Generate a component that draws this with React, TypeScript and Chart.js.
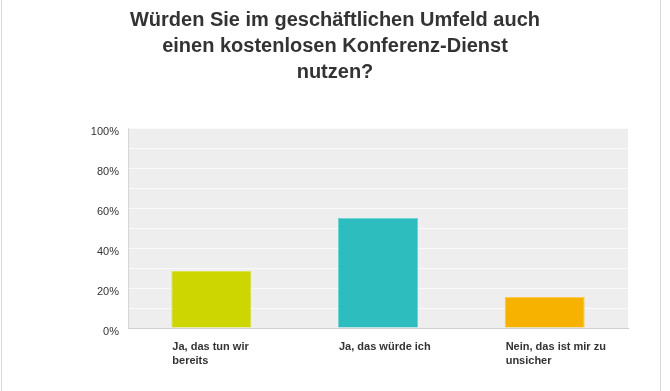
import React, { useEffect, useRef } from "react";
import { Chart, registerables } from "chart.js";

Chart.register(...registerables);

const titleLines = [
  "Würden Sie im geschäftlichen Umfeld auch",
  "einen kostenlosen Konferenz-Dienst",
  "nutzen?",
];
const categories = [
  ["Ja, das tun wir", "bereits"],
  ["Ja, das würde ich"],
  ["Nein, das ist mir zu", "unsicher"],
];
const values = [28.5, 55, 15.5];
const barColors = ["#cdd600", "#2ebdbf", "#f7b200"];
const barBorders = ["#dbe24d", "#6fd3d4", "#f9c94d"];
const yLabelSteps = [0, 20, 40, 60, 80, 100];

const FONT = "'Liberation Sans', Arial, Helvetica, sans-serif";

const bgPlugin = {
  id: "plotBg",
  beforeDraw(chart: any) {
    const { ctx, chartArea } = chart;
    ctx.save();
    ctx.fillStyle = "#eeeeee";
    ctx.fillRect(chartArea.left, chartArea.top, chartArea.right - chartArea.left, chartArea.bottom - chartArea.top);
    ctx.restore();
  },
  afterDraw(chart: any) {
    const { ctx, height } = chart;
    ctx.save();
    ctx.strokeStyle = "#d9d9d9";
    ctx.lineWidth = 1;
    ctx.beginPath();
    ctx.moveTo(1.5, 0);
    ctx.lineTo(1.5, height);
    ctx.moveTo(660.5, 0);
    ctx.lineTo(660.5, height);
    ctx.stroke();
    ctx.restore();
  },
};

export default function App() {
  const ref = useRef<HTMLCanvasElement | null>(null);
  useEffect(() => {
    document.body.style.margin = "0";
    const chart = new Chart(ref.current as HTMLCanvasElement, {
      type: "bar",
      data: {
        labels: categories,
        datasets: [
          {
            data: values,
            backgroundColor: barColors,
            borderColor: barBorders,
            borderWidth: 1,
            barPercentage: 0.48,
            categoryPercentage: 1,
          },
        ],
      },
      options: {
        responsive: false,
        animation: false,
        devicePixelRatio: 1,
        layout: { padding: 0 },
        plugins: {
          legend: { display: false },
          tooltip: { enabled: false },
          title: {
            display: true,
            text: titleLines,
            color: "#333333",
            font: { family: FONT, size: 20, weight: "bold", lineHeight: 1.3 },
            padding: { top: 7, bottom: 43 },
          },
        },
        scales: {
          x: {
            grid: { display: false, drawTicks: false },
            border: { display: true, color: "#cfcfcf", width: 1 },
            ticks: {
              color: "#333333",
              font: { family: FONT, size: 11, weight: "bold", lineHeight: 1.36 },
              align: "start",
              labelOffset: -39,
              padding: 11,
              maxRotation: 0,
              autoSkip: false,
            },
            afterFit(s: any) {
              s.height = 63;
            },
          },
          y: {
            min: 0,
            max: 100,
            grid: {
              drawTicks: false,
              color: (c: any) => (c.tick && c.tick.value === 0 ? "rgba(0,0,0,0)" : "#fafafa"),
              lineWidth: 1,
            },
            border: { display: true, color: "#d6d6d6", width: 1 },
            ticks: {
              stepSize: 10,
              color: "#333333",
              font: { family: FONT, size: 11 },
              padding: 9,
              labelOffset: 4,
              callback: (v: any) => (yLabelSteps.includes(Number(v)) ? v + "%" : ""),
            },
            afterFit(s: any) {
              s.width = 128;
            },
          },
          yR: {
            position: "right",
            display: true,
            grid: { display: false, drawTicks: false },
            border: { display: false },
            ticks: { display: false },
            afterFit(s: any) {
              s.width = 42;
            },
          },
        },
      } as any,
      plugins: [bgPlugin],
    });
    return () => chart.destroy();
  }, []);
  return (
    <div style={{ width: 670, height: 391 }}>
      <canvas ref={ref} width={670} height={391} />
    </div>
  );
}
